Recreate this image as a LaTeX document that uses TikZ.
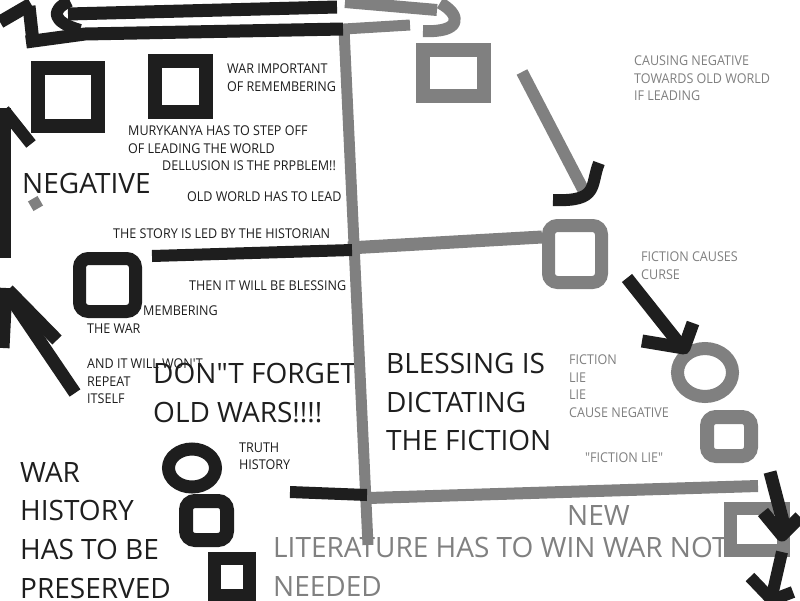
\documentclass[tikz,border=0pt]{standalone}
\usepackage{fontspec}
\setmainfont{Open Sans}[Ligatures=TeXOff]
\newfontfamily\narrowfont{Open Sans}[Ligatures=TeXOff, FakeStretch=0.93]
\usetikzlibrary{shapes.geometric}
\definecolor{inkblack}{HTML}{1E1E1E}
\definecolor{inkgray}{HTML}{808080}
\tikzset{
  blk/.style={draw=inkblack, line width=12pt, line join=round},
  gry/.style={draw=inkgray, line width=12pt, line join=round},
  blkbox/.style={draw=inkblack, fill=white, line width=14pt, inner sep=0pt},
  grybox/.style={draw=inkgray, fill=white, line width=14pt, inner sep=0pt},
  small/.style={font=\narrowfont\fontsize{13.5}{17.7}\selectfont, text=inkblack, anchor=north west, inner sep=0pt, align=left},
  big/.style={font=\fontsize{28}{38.7}\selectfont, text=inkblack, anchor=north west, inner sep=0pt, align=left},
}
\begin{document}
\begin{tikzpicture}[x=1pt,y=-1pt]
\useasboundingbox[fill=white] (0,0) rectangle (800,600);

% texts
\node[small] (wartxt) at (227,63.4) {WAR IMPORTANT\\OF REMEMBERING};
\node[small] (murytxt) at (128,125.4) {MURYKANYA HAS TO STEP OFF\\OF LEADING THE WORLD};
\node[small] (delltxt) at (162,160.4) {DELLUSION IS THE PRPBLEM!!};
\node[small] (oldtxt) at (187,191.4) {OLD WORLD HAS TO LEAD};
\node[small] (storytxt) at (113,228.4) {THE STORY IS LED BY THE HISTORIAN};
\node[small] (thentxt) at (189,280.4) {THEN IT WILL BE BLESSING};
\node[small] (membtxt) at (143,305.4) {MEMBERING};
\node[small] (thewar) at (87,323.4) {THE WAR};
\node[small] (andtxt) at (87,358.4) {AND IT WILL WON'T\\REPEAT\\ITSELF};
\node[small] (truthtxt) at (239,442.4) {TRUTH\\HISTORY};
\node[small, text=inkgray] (causetxt) at (634,55.4) {CAUSING NEGATIVE\\TOWARDS OLD WORLD\\IF LEADING};
\node[small, text=inkgray] (curstxt) at (641,251.4) {FICTION CAUSES\\CURSE};
\node[small, text=inkgray] (lietxt) at (569,354.4) {FICTION\\LIE\\LIE\\CAUSE NEGATIVE};
\node[small, text=inkgray] (quotetxt) at (585,452.4) {"FICTION LIE"};

\node[big] (negtxt) at (22,173) {NEGATIVE};
\node[big] (dontxt) at (153,363) {DON"T FORGET\\OLD WARS!!!!};
\node[big] (blesstxt) at (386,353) {BLESSING IS\\DICTATING\\THE FICTION};
\node[big] (histtxt) at (20,462) {WAR\\HISTORY\\HAS TO BE\\PRESERVED};
\node[big, text=inkgray] (newtxt) at (567,505) {NEW};
\node[big, text=inkgray] (littxt) at (273,537) {LITERATURE HAS TO WIN WAR NOT\\NEEDED};

% black boxes
\node[blkbox, minimum width=60pt, minimum height=58pt] (sqA) at (68,97) {};
\node[blkbox, minimum width=51pt, minimum height=51pt] (sqB) at (180.5,86.5) {};
\node[blkbox, line width=13pt, rounded corners=9pt, minimum width=56pt, minimum height=53pt] (sqC) at (107.5,285) {};
\node[blkbox, line width=13pt, ellipse, minimum width=47pt, minimum height=38pt] (ringA) at (192,468) {};
\node[blkbox, rounded corners=9pt, minimum width=41pt, minimum height=39pt] (sqD) at (206.5,520.5) {};
\node[blkbox, line width=13pt, minimum width=35pt, minimum height=37pt] (sqE) at (232,577) {};

% gray boxes
\node[grybox, minimum width=61pt, minimum height=46pt] (sqF) at (453.5,73) {};
\node[grybox, line width=13pt, rounded corners=9pt, minimum width=53pt, minimum height=57pt] (sqG) at (575,254) {};
\node[grybox, line width=13pt, ellipse, minimum width=55pt, minimum height=48pt] (ringB) at (705,372.5) {};
\node[grybox, rounded corners=9pt, minimum width=44pt, minimum height=39pt] (sqH) at (729,436.5) {};
\node[grybox, line width=13pt, minimum width=53pt, minimum height=42pt] (sqI) at (757,529.5) {};
\node[fill=inkgray, inner sep=0pt, minimum size=11pt, rotate=30] (dot) at (35.5,203.5) {};

% gray frame
\draw[gry] (345,2) -- (437,10);
\draw[gry] (440,3) .. controls (462,15) and (462,33) .. (423,31);
\draw[gry, line width=11pt] (410,25) -- (344,29) -- (368,545);
\draw[gry, line width=13pt] (348,248) -- ([yshift=17pt]sqG.west);
\draw[gry] (368,498) -- (758,486);
\draw[gry] (522,72) -- (587,197);

% black strokes top left
\draw[blk, line width=13pt] (0,22) -- (31,4);
\draw[blk, line width=13pt] (29,6) -- (33,42);
\draw[blk, line width=13pt] (26,42) -- (85,34) -- (343,29);
\draw[blk, line width=13pt] (68,14) -- (337,7);
\draw[blk] (70,1) .. controls (50,10) and (52,22) .. (80,30);

% left arrows
\draw[blk, line width=11pt] (5,258) -- (5,108);
\draw[blk] (4,110) -- (31,144);
\draw[blk, line width=13pt] (6,288) -- (3,348);
\draw[blk, line width=13pt] (8,290) -- (57,340);
\draw[blk, line width=13pt] (12,300) -- (75,393);

% black bars
\draw[blk] (152,256) -- (352,250);
\draw[blk] (290,492) -- (367,495);

% arrow heads
\draw[blk] (599,163) .. controls (590,185) and (600,202) .. (553,200);
\draw[blk, line width=13pt] (627,278) -- (681,346);
\draw[blk, line width=13pt] (693,323) -- (684,348) -- (642,341);
\draw[blk, line width=13pt] (770,472) -- (786,533);
\draw[blk, line width=13pt] (763,512) -- (782,535) -- (800,517);
\draw[blk] (782,552) -- (771,600);
\draw[blk] (750,577) -- (772,600) -- (793,592);
\end{tikzpicture}
\end{document}
